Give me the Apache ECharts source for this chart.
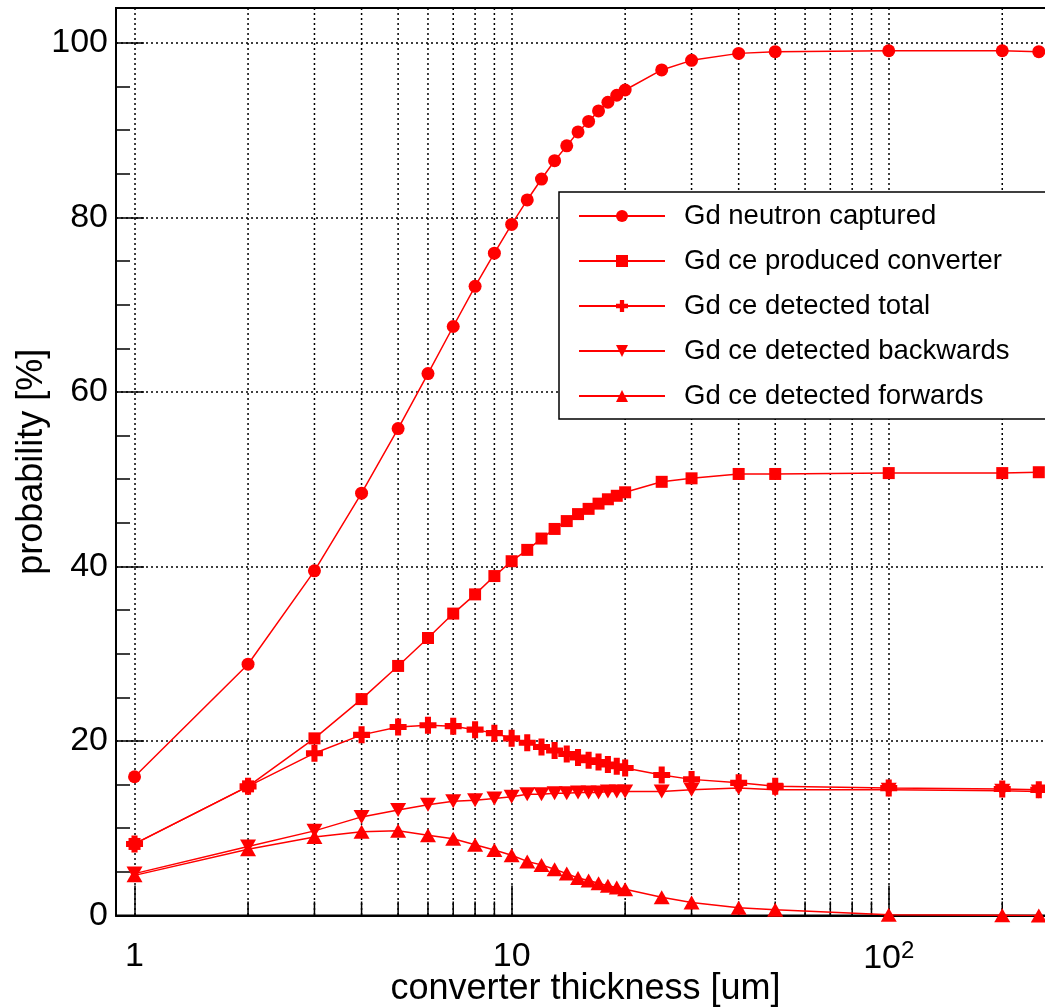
<!DOCTYPE html>
<html>
<head>
<meta charset="utf-8">
<title>Gd converter detection probability</title>
<script src="https://cdn.jsdelivr.net/npm/echarts@6/dist/echarts.min.js"></script>
<style>
  html, body { margin: 0; padding: 0; background: #fff; }
  #chart { width: 1045px; height: 1008px; }
</style>
</head>
<body>
<div id="chart"></div>
<script>
// converter thickness [um]
var thickness = [1, 2, 3, 4, 5, 6, 7, 8, 9, 10, 11, 12, 13, 14, 15, 16, 17, 18, 19, 20, 25, 30, 40, 50, 100, 200, 250];

// probability [%]
var captured  = [15.9, 28.8, 39.5, 48.4, 55.8, 62.1, 67.5, 72.1, 75.9, 79.2, 82.0, 84.4, 86.5, 88.2, 89.8, 91.0, 92.2, 93.2, 94.0, 94.6, 96.9, 98.0, 98.8, 99.0, 99.1, 99.1, 99.0];
var produced  = [8.2, 14.8, 20.3, 24.8, 28.6, 31.8, 34.6, 36.8, 38.9, 40.6, 41.9, 43.2, 44.3, 45.2, 46.0, 46.6, 47.2, 47.7, 48.1, 48.5, 49.7, 50.1, 50.6, 50.6, 50.7, 50.7, 50.8];
var total     = [8.2, 14.8, 18.6, 20.7, 21.6, 21.8, 21.7, 21.3, 20.9, 20.3, 19.8, 19.3, 18.9, 18.5, 18.1, 17.8, 17.6, 17.3, 17.1, 16.9, 16.1, 15.6, 15.2, 14.8, 14.6, 14.5, 14.4];
var backwards = [4.8, 7.9, 9.7, 11.3, 12.1, 12.7, 13.1, 13.2, 13.4, 13.6, 13.9, 13.9, 14.0, 14.0, 14.1, 14.1, 14.1, 14.2, 14.2, 14.2, 14.2, 14.4, 14.6, 14.4, 14.4, 14.3, 14.2];
var forwards  = [4.6, 7.6, 9.0, 9.6, 9.7, 9.2, 8.8, 8.1, 7.5, 6.9, 6.2, 5.8, 5.3, 4.8, 4.3, 4.0, 3.7, 3.4, 3.2, 3.0, 2.1, 1.5, 0.9, 0.65, 0.1, 0.02, 0.0];

var seriesNames = ['Gd neutron captured', 'Gd ce produced converter', 'Gd ce detected total', 'Gd ce detected backwards', 'Gd ce detected forwards'];

// log decade sub-ticks (2..9 per decade)
var minorX = [2, 3, 4, 5, 6, 7, 8, 9, 20, 30, 40, 50, 60, 70, 80, 90, 200];

var FONT = 'Liberation Sans, Arial, sans-serif';
var RED = '#ff0000';
var gridDot = { color: '#000', width: 1.5, type: [2, 3] };

var plusPath = 'path://M9,0 H19 V9 H28 V19 H19 V28 H9 V19 H0 V9 H9 Z';
var downTri = 'path://M0,0 L20,0 L10,18 Z';
var upTri = 'path://M10,0 L20,18 L0,18 Z';

function pairs(ys) {
  return thickness.map(function (x, i) { return [x, ys[i]]; });
}

function lineSeries(name, ys, symbol, size) {
  return {
    name: name,
    type: 'line',
    data: pairs(ys),
    symbol: symbol,
    symbolSize: size,
    showAllSymbol: true,
    lineStyle: { color: RED, width: 1.5 },
    itemStyle: { color: RED },
    z: 3
  };
}

var chart = echarts.init(document.getElementById('chart'));

var option = {
  animation: false,
  backgroundColor: '#fff',
  textStyle: { fontFamily: FONT },
  grid: {
    left: 116, top: 8, right: -10, bottom: 92.5,
    outerBoundsMode: 'none',
    containLabel: false,
    show: true, borderColor: '#000', borderWidth: 2, backgroundColor: 'transparent'
  },
  legend: {
    orient: 'vertical',
    left: 559, top: 192,
    data: seriesNames,
    itemWidth: 86, itemHeight: 15, itemGap: 17,
    padding: [10, 50, 9, 19],
    backgroundColor: '#fff',
    borderColor: '#000', borderWidth: 1.5,
    textStyle: { fontFamily: FONT, fontSize: 27.5, color: '#000', lineHeight: 27, padding: [0, 0, 0, 14] }
  },
  xAxis: {
    type: 'log',
    logBase: 10,
    min: 0.893,
    max: 276,
    name: 'converter thickness [um]',
    nameLocation: 'middle',
    nameGap: 56,
    nameMoveOverlap: false,
    nameTextStyle: { fontFamily: FONT, fontSize: 36, color: '#000' },
    axisLine: { lineStyle: { color: '#000', width: 2 } },
    axisTick: { inside: true, length: 30, lineStyle: { color: '#000', width: 1.5 } },
    axisLabel: {
      margin: 24,
      fontFamily: FONT, fontSize: 34, color: '#000',
      showMinLabel: false, showMaxLabel: false,
      formatter: function (v) {
        var e = Math.log10(v);
        if (Math.abs(e - Math.round(e)) > 1e-6) return '';
        e = Math.round(e);
        if (e === 0) return '1';
        if (e === 1) return '10';
        return '10{sup|' + e + '}';
      },
      rich: { sup: { fontSize: 24, fontFamily: FONT, color: '#000', verticalAlign: 'top', padding: [0, 0, 14, 0] } }
    },
    splitLine: { show: true, lineStyle: gridDot },
    minorTick: { show: false }
  },
  yAxis: {
    type: 'value',
    min: 0, max: 104, interval: 20,
    name: 'probability [%]',
    nameLocation: 'middle',
    nameGap: 66,
    nameMoveOverlap: false,
    nameTextStyle: { fontFamily: FONT, fontSize: 36, color: '#000' },
    axisLine: { show: true, lineStyle: { color: '#000', width: 2 } },
    axisTick: { show: true, inside: true, length: 28, lineStyle: { color: '#000', width: 1.5 } },
    minorTick: { show: true, splitNumber: 4, length: 14, lineStyle: { color: '#000', width: 1.5 } },
    axisLabel: {
      margin: 8,
      fontFamily: FONT, fontSize: 34, color: '#000',
      formatter: function (v) { return v % 20 === 0 ? String(v) : ''; }
    },
    splitLine: { show: true, lineStyle: gridDot }
  },
  series: [
    {
      name: 'minor log grid',
      type: 'custom',
      data: minorX.map(function (x) { return [x, 0]; }),
      encode: { x: 0, y: 1 },
      silent: true,
      z: 1,
      renderItem: function (params, api) {
        var cs = params.coordSys;
        var p = api.coord([api.value(0), 0]);
        return {
          type: 'group',
          children: [
            {
              type: 'line',
              shape: { x1: p[0], y1: cs.y, x2: p[0], y2: cs.y + cs.height },
              style: { stroke: '#000', lineWidth: 1.5, lineDash: [2, 3] }
            },
            {
              type: 'line',
              shape: { x1: p[0], y1: p[1], x2: p[0], y2: p[1] - 14 },
              style: { stroke: '#000', lineWidth: 1.5 }
            }
          ]
        };
      }
    },
    lineSeries(seriesNames[0], captured, 'circle', 13),
    lineSeries(seriesNames[1], produced, 'rect', 12),
    lineSeries(seriesNames[2], total, plusPath, 17),
    lineSeries(seriesNames[3], backwards, downTri, [16, 14]),
    lineSeries(seriesNames[4], forwards, upTri, [16, 14])
  ]
};

chart.setOption(option);
</script>
</body>
</html>
